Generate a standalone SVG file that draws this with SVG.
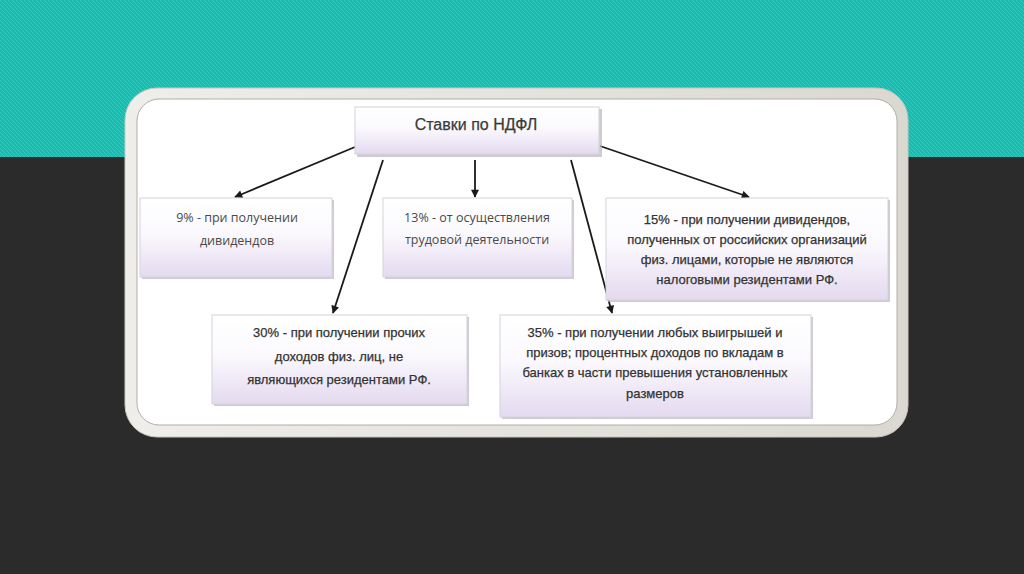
<svg xmlns="http://www.w3.org/2000/svg" width="1024" height="574" viewBox="0 0 1024 574">
<defs>
<pattern id="stripes" width="4" height="4" patternUnits="userSpaceOnUse">
<rect width="4" height="4" fill="#15bdb0"/>
<path d="M0,0 L4,4 M-1,3 L1,5 M3,-1 L5,1" stroke="#3cc9be" stroke-width="1"/>
</pattern>
<linearGradient id="boxg" x1="0" y1="0" x2="0" y2="1">
<stop offset="0" stop-color="#ffffff"/>
<stop offset="0.45" stop-color="#fbf9fd"/>
<stop offset="1" stop-color="#e4daf0"/>
</linearGradient>
<linearGradient id="frameg" x1="0" y1="0" x2="1" y2="0">
<stop offset="0" stop-color="#efeeea"/>
<stop offset="1" stop-color="#dad8d0"/>
</linearGradient>
<marker id="arr" viewBox="0 0 10 10" refX="9" refY="5" markerWidth="9" markerHeight="8" orient="auto" markerUnits="userSpaceOnUse">
<path d="M0,0 L10,5 L0,10 z" fill="#1a1a1a"/>
</marker>
<style>
.box{fill:url(#boxg);stroke:#d6d2dc;stroke-width:1}
.shadow{fill:#b9b6bd;opacity:0.7}
.t{font-family:"Liberation Sans","Open Sans",sans-serif;font-size:13px;fill:#333333;stroke:#333333;stroke-width:0.25;text-anchor:middle}
.tl{font-family:"Open Sans","Liberation Sans",sans-serif;font-size:12.5px;fill:#4a4a4a;text-anchor:middle}
.title{font-family:"Liberation Sans",sans-serif;font-size:16px;fill:#3a3a3a;stroke:#3a3a3a;stroke-width:0.25;text-anchor:middle}
.c{stroke:#1a1a1a;stroke-width:1.8;fill:none;marker-end:url(#arr)}
</style>
</defs>
<rect width="1024" height="574" fill="#2b2b2b"/>
<rect width="1024" height="157" fill="url(#stripes)"/>
<g id="frame">
<rect x="125" y="88" width="783" height="349" rx="32" fill="url(#frameg)" stroke="#c9c6bf" stroke-width="1"/>
<rect x="137" y="99" width="760" height="326" rx="22" fill="#ffffff" stroke="#b0aea8" stroke-width="1"/>
</g>
<g id="connectors">
<line class="c" x1="355" y1="147" x2="235" y2="197"/>
<line class="c" x1="383" y1="160" x2="333" y2="313"/>
<line class="c" x1="475" y1="160" x2="475" y2="197"/>
<line class="c" x1="600" y1="146" x2="749" y2="197"/>
<line class="c" x1="571" y1="160" x2="612" y2="313"/>
</g>
<g id="title">
<rect class="shadow" x="357" y="109" width="245" height="48"/>
<rect class="box" x="355" y="107" width="244" height="47"/>
<text class="title" x="476" y="130">Ставки по НДФЛ</text>
</g>
<g id="n9">
<rect class="shadow" x="142" y="200" width="192" height="79"/>
<rect class="box" x="140" y="198" width="192" height="79"/>
<text class="tl" x="237" y="222">9% - при получении</text>
<text class="tl" x="237" y="245">дивидендов</text>
</g>
<g id="n13">
<rect class="shadow" x="385" y="200" width="189" height="79"/>
<rect class="box" x="383" y="198" width="189" height="79"/>
<text class="tl" x="477" y="222">13% - от  осуществления</text>
<text class="tl" x="477" y="244">трудовой деятельности</text>
</g>
<g id="n15">
<rect class="shadow" x="608" y="200" width="282" height="102"/>
<rect class="box" x="606" y="198" width="282" height="102"/>
<text class="t" x="747" y="224">15% - при получении дивидендов,</text>
<text class="t" x="747" y="244">полученных от российских организаций</text>
<text class="t" x="747" y="264">физ. лицами, которые не являются</text>
<text class="t" x="747" y="284">налоговыми резидентами РФ.</text>
</g>
<g id="n30">
<rect class="shadow" x="214" y="317" width="255" height="89"/>
<rect class="box" x="212" y="315" width="255" height="89"/>
<text class="t" x="339" y="337">30% - при получении прочих</text>
<text class="t" x="339" y="361">доходов физ. лиц, не</text>
<text class="t" x="339" y="384">являющихся резидентами РФ.</text>
</g>
<g id="n35">
<rect class="shadow" x="502" y="317" width="311" height="102"/>
<rect class="box" x="500" y="315" width="311" height="102"/>
<text class="t" x="655" y="337">35% - при получении любых выигрышей и</text>
<text class="t" x="655" y="357">призов; процентных доходов по вкладам в</text>
<text class="t" x="655" y="377">банках в части превышения установленных</text>
<text class="t" x="655" y="398">размеров</text>
</g>
</svg>
